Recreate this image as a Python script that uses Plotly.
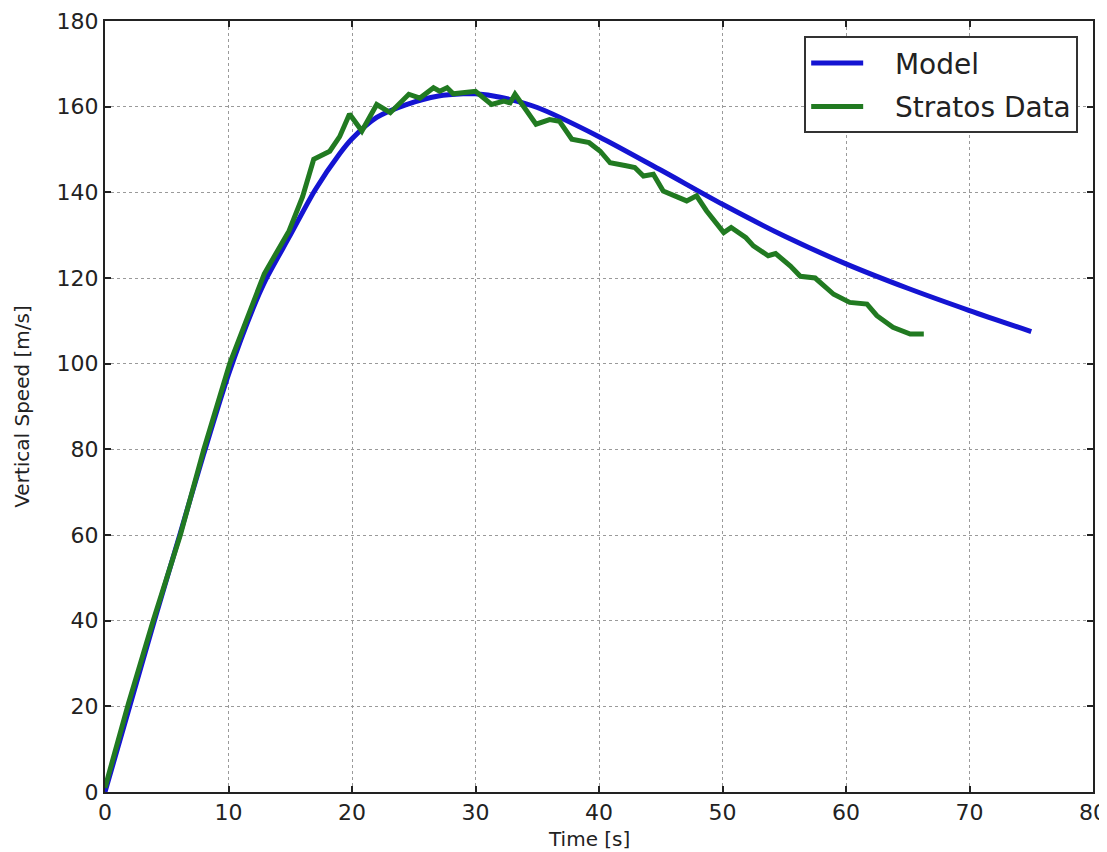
import plotly.graph_objects as go

# model curve
model_t = [0, 2, 4, 6, 8, 10, 12, 13, 15, 17, 19, 20, 22, 24.4, 27, 29, 30, 32,
           35, 40, 45, 50, 55, 60, 65, 70, 75]
model_v = [0, 20, 40, 59.5, 79, 97.5, 113, 119.5, 130, 140.5, 149, 152.5, 157.5,
           160.5, 162.5, 163, 163, 162.2, 159.8, 153, 145.2, 137.2, 129.8, 123.3,
           117.6, 112.4, 107.5]

# measured flight data
data_t = [0, 1.9, 3.9, 6.1, 8.0, 10.1, 12.9, 14.9, 16.0, 16.9, 18.2, 19.0, 19.8,
          20.8, 22.0, 23.1, 24.6, 25.5, 26.6, 27.1, 27.7, 28.2, 30.0, 30.6, 31.3,
          32.3, 32.8, 33.2, 34.0, 34.9, 36.0, 36.8, 37.8, 39.2, 40.1, 40.9, 42.2,
          42.9, 43.6, 44.4, 45.2, 47.1, 47.9, 48.7, 50.1, 50.7, 51.9, 52.5, 53.7,
          54.3, 55.5, 56.3, 57.5, 59.0, 60.3, 61.7, 62.5, 63.8, 65.2, 66.3]
data_v = [1, 20.7, 40, 60, 80, 100, 121, 131, 139, 147.7, 149.6, 153, 158.3,
          154.3, 160.5, 158.6, 162.9, 162, 164.4, 163.6, 164.4, 163, 163.6, 162.1,
          160.5, 161.3, 160.9, 162.9, 159.4, 155.9, 157, 156.6, 152.4, 151.6,
          149.6, 146.9, 146.2, 145.8, 143.8, 144.2, 140.3, 138, 139.2, 135.7,
          130.6, 131.8, 129.4, 127.5, 125.2, 125.7, 122.8, 120.4, 120, 116.2,
          114.3, 113.9, 111.2, 108.5, 106.9, 106.9]

FONT = "DejaVu Sans"
INK = "#222"
GAP = "\u00a0" * 3  # space between legend line sample and label

fig = go.Figure()
fig.add_trace(go.Scatter(x=model_t, y=model_v, mode="lines", name=GAP + "Model",
                         legendgroup="model",
                         line=dict(color="#1414d2", width=5, shape="spline", smoothing=0.8)))
fig.add_trace(go.Scatter(x=data_t, y=data_v, mode="lines", name=GAP + "Stratos Data",
                         legendgroup="data",
                         line=dict(color="#217a21", width=5)))

axis_style = dict(
    showgrid=True, gridcolor="#9a9a9a", griddash="dot", gridwidth=1.3,
    showline=True, linecolor=INK, linewidth=2, mirror="ticks",
    ticks="inside", ticklen=6, tickcolor=INK, tickwidth=1.5,
    zeroline=False, tickfont=dict(size=22, color=INK), automargin=False,
)

fig.update_xaxes(range=[0, 80], dtick=10, **axis_style)
fig.update_yaxes(range=[0, 180], dtick=20, title=dict(text="Vertical Speed [m/s]",
                 standoff=22, font=dict(size=20, color=INK)), **axis_style)

# x title sits right at the bottom edge, as in the original
fig.add_annotation(text="Time [s]", xref="paper", yref="paper", x=0.49, y=0,
                   xanchor="center", yanchor="top", yshift=-33, showarrow=False,
                   font=dict(size=20, color=INK))

# the page body adds an 8px margin, so the figure is 8px smaller on each side
fig.update_layout(
    width=1099, height=844,
    margin=dict(l=97, r=14, t=13, b=60),
    paper_bgcolor="white", plot_bgcolor="white",
    font=dict(family=FONT, color=INK),
    legend=dict(x=0.985, y=0.98, xanchor="right", yanchor="top",
                bgcolor="white", bordercolor="#333", borderwidth=2,
                font=dict(size=28), tracegroupgap=4, itemwidth=52),
    showlegend=True,
)

fig.write_html("out.html")
